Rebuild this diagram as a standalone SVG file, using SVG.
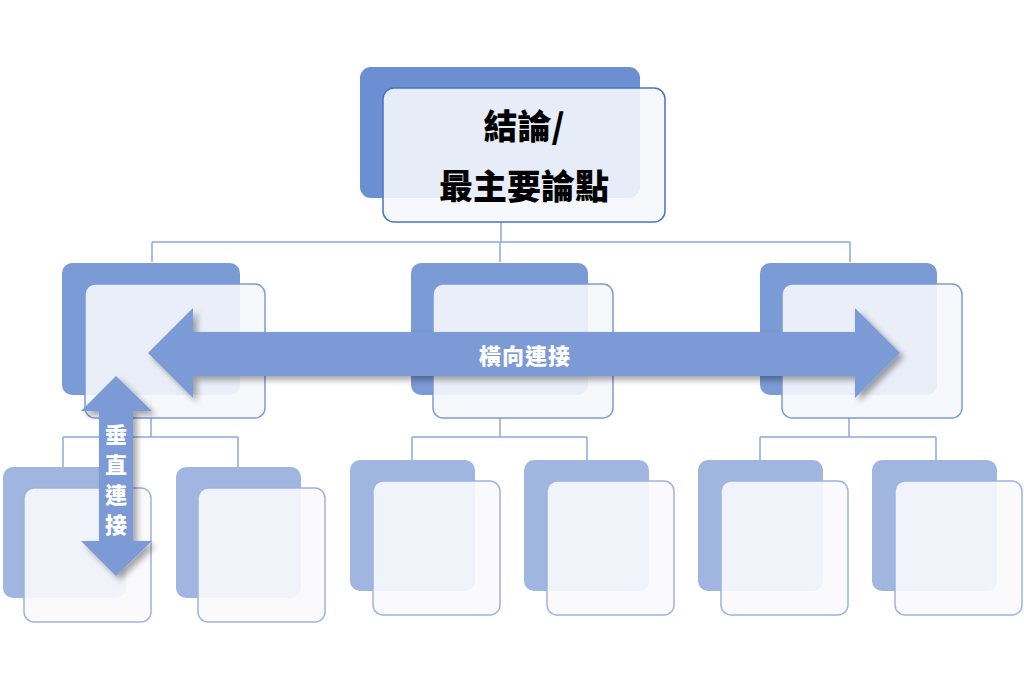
<svg xmlns="http://www.w3.org/2000/svg" width="1024" height="682" viewBox="0 0 1024 682">
<defs>
<style>
.b1{fill:#6b8fd2}
.b2{fill:#7b9bd6}
.b3{fill:#a0b6e0}
.f{fill:#f5f7fc;fill-opacity:0.9;stroke:#4a72c4;stroke-width:1.5}
.f3{fill:#f9fafd;fill-opacity:0.9;stroke:#9fb3df;stroke-width:1.5}
.c{fill:none;stroke:#8fa8dc;stroke-width:1.5}
.t{font-family:"Noto Sans CJK TC","Noto Sans CJK SC",sans-serif;font-weight:900}
</style>
<filter id="sh" x="-10%" y="-10%" width="130%" height="130%"><feDropShadow dx="4" dy="4" stdDeviation="3" flood-color="#000" flood-opacity="0.35"/></filter>
</defs>
<rect width="1024" height="682" fill="#fff"/>
<g id="connectors">
<path class="c" d="M501 222V242M152 242H850M152 242V262M500 242V262M850 242V262"/>
<path class="c" d="M151 395V437M63 437H238M63 437V467M238 437V467"/>
<path class="c" d="M500 418V437M412 437H587M412 437V460M587 437V460"/>
<path class="c" d="M849 418V437M760 437H936M760 437V460M936 437V460"/>
</g>
<g id="top"><rect class="b1" x="360" y="67" width="280" height="131" rx="11"/><rect class="f" x="383" y="88" width="282" height="134" rx="11"/>
<text class="t" x="524" y="139" font-size="34" text-anchor="middle">結論/</text>
<text class="t" x="524" y="199" font-size="34" text-anchor="middle">最主要論點</text></g>
<g id="n1"><rect class="b2" x="62" y="263" width="178" height="132" rx="10"/><rect class="f" x="85" y="284" width="180" height="134" rx="10" style="stroke:#7e9bd6"/></g>
<g id="n2"><rect class="b2" x="411" y="263" width="177" height="132" rx="10"/><rect class="f" x="433" y="284" width="180" height="134" rx="10" style="stroke:#7e9bd6"/></g>
<g id="n3"><rect class="b2" x="760" y="263" width="177" height="132" rx="10"/><rect class="f" x="782" y="284" width="180" height="134" rx="10" style="stroke:#7e9bd6"/></g>
<g id="c1"><rect class="b3" x="3" y="467" width="123" height="131" rx="10"/><rect class="f3" x="24" y="488" width="127" height="134" rx="10"/></g>
<g id="c2"><rect class="b3" x="176" y="467" width="125" height="131" rx="10"/><rect class="f3" x="198" y="488" width="127" height="134" rx="10"/></g>
<g id="c3"><rect class="b3" x="350" y="460" width="125" height="131" rx="10"/><rect class="f3" x="373" y="481" width="127" height="134" rx="10"/></g>
<g id="c4"><rect class="b3" x="524" y="460" width="125" height="131" rx="10"/><rect class="f3" x="547" y="481" width="127" height="134" rx="10"/></g>
<g id="c5"><rect class="b3" x="698" y="460" width="125" height="131" rx="10"/><rect class="f3" x="721" y="481" width="127" height="134" rx="10"/></g>
<g id="c6"><rect class="b3" x="872" y="460" width="125" height="131" rx="10"/><rect class="f3" x="895" y="481" width="127" height="134" rx="10"/></g>
<g id="harrow"><polygon fill="#7b9bd6" filter="url(#sh)" points="148,353 193,308 193,332 855,332 855,308 900,353 855,398 855,376 193,376 193,398"/>
<text class="t" x="525" y="364" font-size="22" fill="#fff" text-anchor="middle" letter-spacing="1">橫向連接</text></g>
<g id="varrow"><polygon fill="#7b9bd6" filter="url(#sh)" points="116,376 152,411 133,411 133,541 152,541 116,576 81,541 99,541 99,411 81,411"/>
<g class="t" font-size="22" fill="#fff" text-anchor="middle"><text x="116" y="443">垂</text><text x="116" y="473">直</text><text x="116" y="503">連</text><text x="116" y="533">接</text></g></g>
</svg>
